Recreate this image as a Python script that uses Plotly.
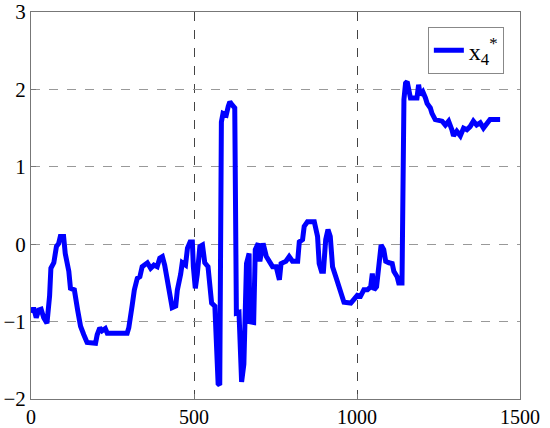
import plotly.graph_objects as go

x_vals = [3, 8, 16, 24, 31, 39, 49, 57, 61, 70, 78, 85, 90, 100, 105, 116, 121, 133, 143, 152, 162, 172, 198, 203, 211, 218, 228, 234, 295, 300, 310, 317, 326, 334, 341, 357, 367, 377, 387, 395, 403, 410, 418, 428, 433, 444, 449, 459, 464, 474, 480, 488, 495, 498, 504, 510, 518, 526, 533, 543, 554, 564, 574, 579, 584, 589, 599, 605, 610, 617, 625, 630, 638, 646, 653, 661, 669, 671, 683, 688, 697, 702, 712, 722, 732, 741, 752, 762, 767, 782, 792, 802, 818, 823, 833, 838, 848, 869, 879, 884, 891, 897, 904, 911, 918, 925, 935, 945, 952, 960, 981, 991, 1001, 1011, 1021, 1032, 1042, 1047, 1052, 1060, 1067, 1074, 1082, 1088, 1098, 1108, 1113, 1123, 1128, 1138, 1144, 1149, 1154, 1159, 1164, 1184, 1189, 1194, 1202, 1210, 1215, 1225, 1230, 1240, 1261, 1271, 1281, 1291, 1296, 1306, 1317, 1327, 1337, 1347, 1357, 1367, 1378, 1388, 1398, 1408, 1439]
y_vals = [-0.89, -0.82, -0.95, -0.85, -0.84, -0.95, -1.02, -0.67, -0.31, -0.24, -0.03, 0.01, 0.1, 0.1, -0.12, -0.35, -0.57, -0.59, -0.85, -1.06, -1.17, -1.27, -1.28, -1.17, -1.08, -1.12, -1.09, -1.15, -1.15, -1.08, -0.8, -0.59, -0.44, -0.42, -0.29, -0.24, -0.31, -0.27, -0.29, -0.18, -0.16, -0.27, -0.46, -0.72, -0.82, -0.8, -0.59, -0.39, -0.24, -0.27, -0.05, 0.03, 0.03, -0.29, -0.57, -0.39, -0.03, -0.01, -0.24, -0.29, -0.76, -0.8, -1.8, -1.82, 1.58, 1.69, 1.67, 1.78, 1.84, 1.8, 1.76, -0.89, -0.88, -1.78, -1.55, -0.25, -0.12, -1.0, -1.01, -0.07, 0.01, -0.22, 0.01, -0.16, -0.22, -0.29, -0.29, -0.46, -0.25, -0.22, -0.16, -0.22, -0.22, 0.03, 0.06, 0.23, 0.29, 0.29, 0.1, -0.25, -0.35, -0.35, 0.06, 0.19, 0.1, -0.29, -0.42, -0.55, -0.61, -0.75, -0.76, -0.7, -0.66, -0.67, -0.59, -0.59, -0.55, -0.38, -0.59, -0.55, -0.2, -0.01, -0.07, -0.22, -0.24, -0.25, -0.35, -0.42, -0.5, -0.5, 1.87, 2.08, 2.1, 2.0, 1.89, 1.89, 2.06, 1.93, 1.97, 1.89, 1.82, 1.76, 1.69, 1.61, 1.59, 1.54, 1.59, 1.48, 1.4, 1.46, 1.4, 1.5, 1.48, 1.52, 1.59, 1.54, 1.57, 1.5, 1.57, 1.61, 1.61]

x_ticks = [0, 500, 1000, 1500]
y_ticks = [-2, -1, 0, 1, 2, 3]

fig = go.Figure()
fig.add_trace(go.Scatter(x=x_vals, y=y_vals, mode="lines", name="x<sub>4</sub><sup>*</sup>",
                         line=dict(color="#0000ff", width=5)))

font = dict(family="Liberation Serif, Times New Roman, serif", size=21, color="black")
fig.update_layout(
    width=550, height=428,
    margin=dict(l=31, r=30, t=12, b=29),
    paper_bgcolor="white", plot_bgcolor="white",
    font=font,
    showlegend=True,
    legend=dict(x=0.967, y=0.961, xanchor="right", yanchor="top",
                bordercolor="#888888", borderwidth=1, bgcolor="white",
                font=dict(family="Liberation Serif, serif", size=24, color="black"),
                itemwidth=30),
    xaxis=dict(range=[0, 1500], tickvals=x_ticks, showgrid=True, automargin=False,
               gridcolor="#444444", griddash="dash", gridwidth=1,
               showline=True, linecolor="#777777", linewidth=1, mirror=True,
               ticks="inside", ticklen=5, tickcolor="#777777", zeroline=False,
               ticklabeloverflow="allow", tickfont=dict(size=20)),
    yaxis=dict(range=[-2, 3], tickvals=y_ticks, showgrid=True, automargin=False,
               gridcolor="#999999", griddash="dash", gridwidth=1,
               showline=True, linecolor="#777777", linewidth=1, mirror=True,
               ticks="inside", ticklen=5, tickcolor="#777777", zeroline=False,
               ticklabeloverflow="allow"),
)
fig.write_html("out.html", config={"displayModeBar": False},
               post_script="document.body.style.margin='0';")
